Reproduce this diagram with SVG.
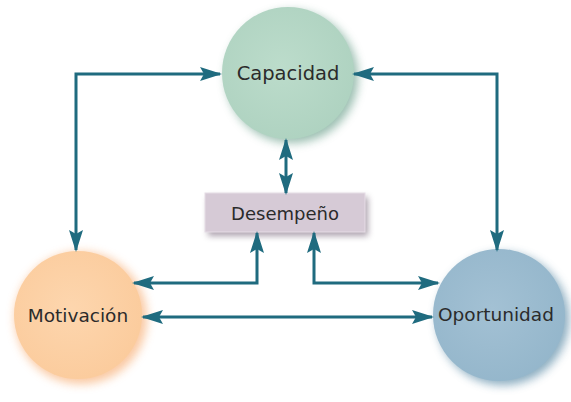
<svg xmlns="http://www.w3.org/2000/svg" width="571" height="402" viewBox="0 0 571 402">
<style>
.lbl{font-family:"DejaVu Sans","Liberation Sans",sans-serif;font-size:18.5px;fill:#2b2b2b;text-anchor:middle}
.con{fill:none;stroke:#1f6b7f;stroke-width:3;marker-start:url(#arr);marker-end:url(#arr)}
</style>
<defs>
<marker id="arr" viewBox="0 0 22 14" refX="20" refY="7" markerWidth="22" markerHeight="14" markerUnits="userSpaceOnUse" orient="auto-start-reverse">
<path d="M0,0 L22,7 L0,14 L4,7 Z" fill="#1f6b7f"/>
</marker>
<filter id="blur" x="-30%" y="-30%" width="160%" height="160%"><feGaussianBlur stdDeviation="5"/></filter>
<filter id="blur2" x="-30%" y="-30%" width="160%" height="160%"><feGaussianBlur stdDeviation="3"/></filter>
<radialGradient id="gCap" cx="45%" cy="45%" r="60%"><stop offset="0" stop-color="#bcdccb"/><stop offset="1" stop-color="#aed2c0"/></radialGradient>
<radialGradient id="gMot" cx="45%" cy="45%" r="60%"><stop offset="0" stop-color="#fdd6ae"/><stop offset="1" stop-color="#fbcb9c"/></radialGradient>
<radialGradient id="gOpo" cx="45%" cy="45%" r="60%"><stop offset="0" stop-color="#a3c1d4"/><stop offset="1" stop-color="#94b6cb"/></radialGradient>
</defs>
<g id="capacidad">
<circle cx="292" cy="77" r="66" fill="#6fa38f" opacity="0.7" filter="url(#blur)"/>
<circle cx="288" cy="73" r="66" fill="url(#gCap)"/>
<text class="lbl" x="288" y="80" style="font-size:19.5px">Capacidad</text>
</g>
<g id="motivacion">
<circle cx="81" cy="318" r="66" fill="#f8b27c" opacity="0.7" filter="url(#blur)"/>
<circle cx="78" cy="315" r="64" fill="url(#gMot)"/>
<text class="lbl" x="78" y="322">Motivación</text>
</g>
<g id="oportunidad">
<circle cx="503" cy="319" r="66" fill="#5a8aa6" opacity="0.7" filter="url(#blur)"/>
<circle cx="499" cy="315" r="66" fill="url(#gOpo)"/>
<text class="lbl" x="496" y="321">Oportunidad</text>
</g>
<g id="desempeno">
<rect x="208" y="197" width="160" height="39" fill="#8a7a8c" opacity="0.7" filter="url(#blur2)"/>
<rect x="205" y="193" width="160" height="39" fill="#d6cad6" stroke="#e6dde6" stroke-width="1"/>
<text class="lbl" x="285" y="220" style="font-size:18px">Desempeño</text>
</g>
<g id="connectors">
<path class="con" d="M220,74 H76 V250"/>
<path class="con" d="M354,74 H497 V250"/>
<path class="con" d="M286,140 V193"/>
<path class="con" d="M134,283 H257 V233"/>
<path class="con" d="M314,233 V283 H438"/>
<path class="con" d="M143,317 H432"/>
</g>
</svg>
